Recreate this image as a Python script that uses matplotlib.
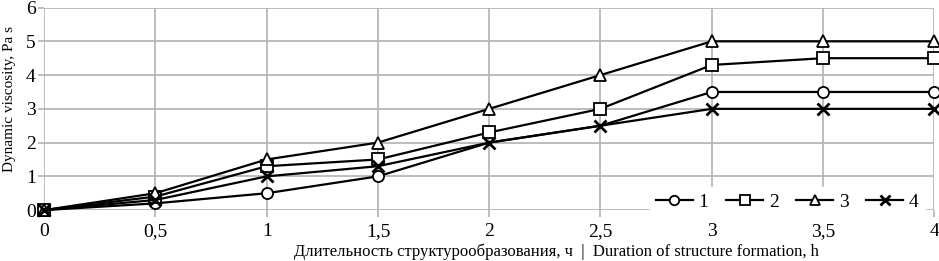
import matplotlib.pyplot as plt

plt.rcParams['font.family'] = ['Liberation Serif', 'DejaVu Serif']

hours = [0, 0.5, 1, 1.5, 2, 2.5, 3, 3.5, 4]
s1 = [0, 0.2, 0.5, 1.0, 2.0, 2.5, 3.5, 3.5, 3.5]
s2 = [0, 0.4, 1.3, 1.5, 2.3, 3.0, 4.3, 4.5, 4.5]
s3 = [0, 0.5, 1.5, 2.0, 3.0, 4.0, 5.0, 5.0, 5.0]
s4 = [0, 0.3, 1.0, 1.3, 2.0, 2.5, 3.0, 3.0, 3.0]
tick_labels = ['0', '0,5', '1', '1,5', '2', '2,5', '3', '3,5', '4']
# circle markers at 2 and 2,5 are hidden behind the crosses in the original
s1_marks = [0, 1, 2, 3, 6, 7, 8]

fig = plt.figure(figsize=(9.39, 2.61), dpi=100)
ax = fig.add_axes([0.047, 0.195, 0.948, 0.776])

ms = 8
style = dict(color='black', lw=1.6, mec='black', clip_on=False)
ax.plot(hours, s1, marker='o', ms=ms, mfc='white', mew=1.3, markevery=s1_marks, label='1', zorder=3, **style)
ax.plot(hours, s2, marker='s', ms=ms, mfc='white', mew=1.3, label='2', zorder=3, **style)
ax.plot(hours, s3, marker='^', ms=ms + 1, mfc='white', mew=1.3, label='3', zorder=3, **style)
ax.plot(hours, s4, marker='x', ms=ms, mew=2, label='4', zorder=4, **style)

ax.set_xlim(0, 4)
ax.set_ylim(0, 6)
ax.set_xticks(hours)
ax.set_xticklabels(tick_labels)
ax.set_yticks(range(7))
ax.grid(True, color='#b8b8b8', lw=1.3)
ax.set_axisbelow(True)
for s in ax.spines.values():
    s.set_visible(False)
ax.tick_params(axis='y', length=4, color='#b8b8b8', width=1.3, labelsize=14, pad=2)
ax.tick_params(axis='x', length=5, color='#b8b8b8', width=1.3, labelsize=14, pad=4)

ax.set_ylabel('Dynamic viscosity, Pa s', fontsize=11)
ax.yaxis.set_label_coords(-0.0315, 0.55)
fig.text(0.593, 0.005, 'Длительность структурообразования, ч  |  Duration of structure formation, h',
         ha='center', va='bottom', fontsize=12)

leg = ax.legend(loc='lower right', ncol=4, frameon=True, fontsize=14, handlelength=1.9,
                columnspacing=0.9, handletextpad=0.3, borderpad=0.3, markerscale=0.85,
                bbox_to_anchor=(1.0, -0.08))
leg.get_frame().set_edgecolor('white')
leg.get_frame().set_facecolor('white')
leg.get_frame().set_alpha(1)
leg.get_frame().set_boxstyle('square', pad=0)
leg.set_zorder(5)

fig.savefig('out.png', dpi=100)
